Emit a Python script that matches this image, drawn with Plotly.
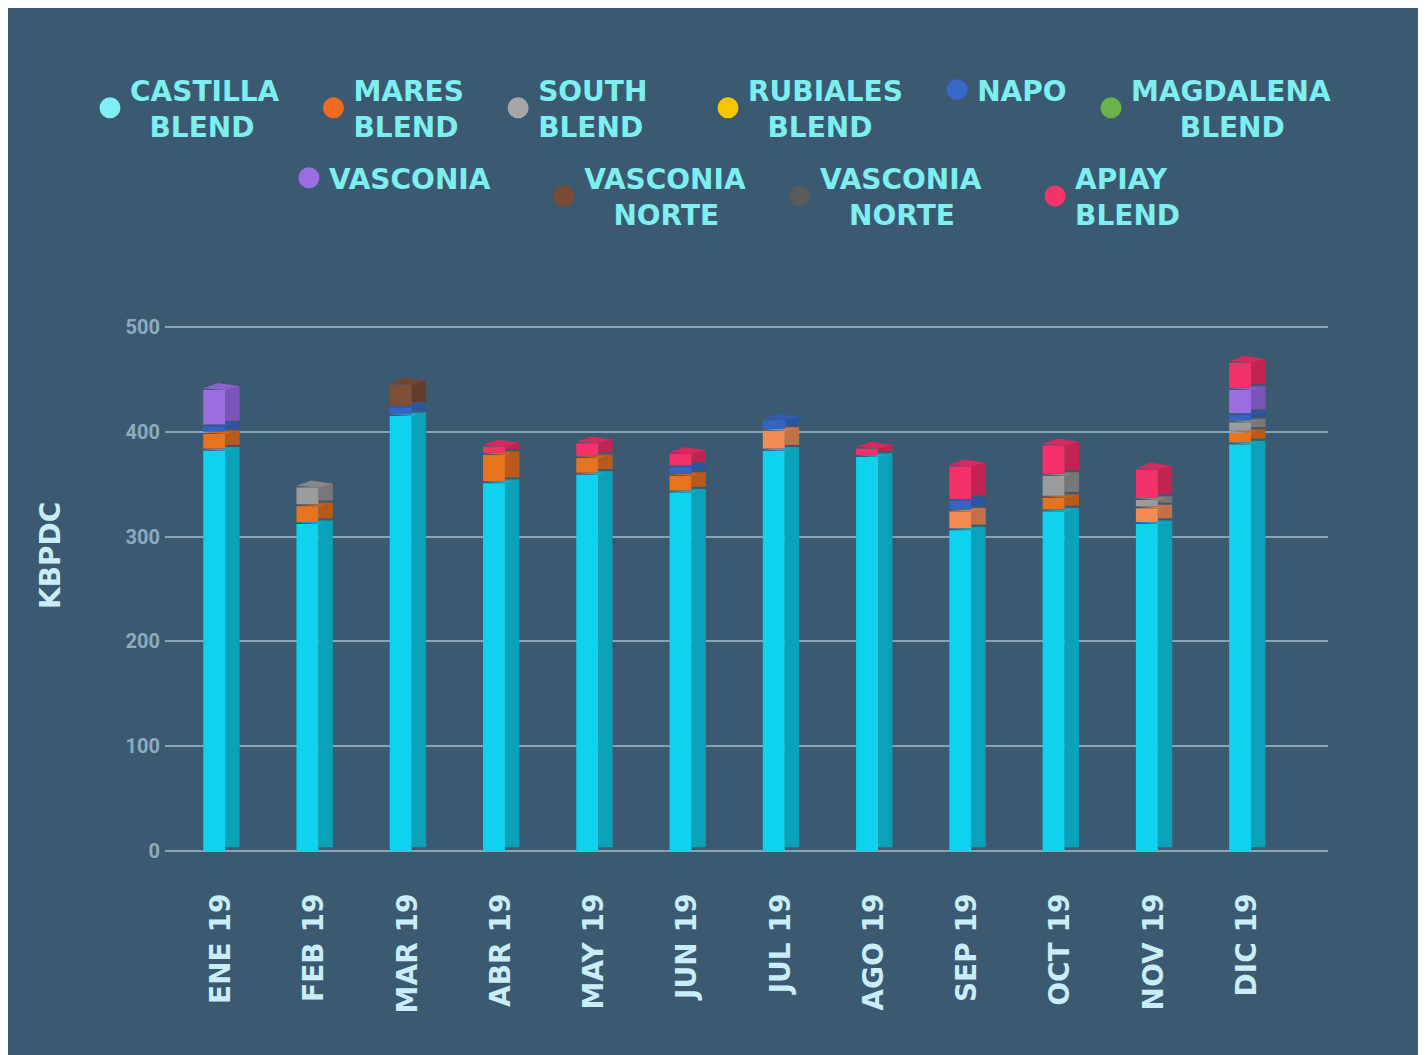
import plotly.graph_objects as go

# ---------------- data ----------------
months = ["ENE 19", "FEB 19", "MAR 19", "ABR 19", "MAY 19", "JUN 19",
          "JUL 19", "AGO 19", "SEP 19", "OCT 19", "NOV 19", "DIC 19"]

castilla_blend = [382, 312, 415, 351, 359, 342, 382, 376, 306, 324, 312, 388]
mares_blend = [14, 15, 0, 25, 14, 14, 17, 0, 16, 11, 13, 9]
south_blend = [0, 16, 0, 0, 0, 0, 0, 0, 0, 19, 6, 8]
rubiales_blend = [0, 0, 0, 0, 0, 0, 0, 0, 0, 0, 0, 0]
napo = [5, 0, 6, 0, 0, 6, 8, 0, 8, 0, 0, 5]
magdalena_blend = [0, 0, 0, 0, 0, 0, 0, 0, 0, 0, 0, 0]
vasconia = [33, 0, 0, 0, 0, 0, 0, 0, 0, 0, 0, 22]
vasconia_norte_a = [0, 0, 20, 0, 0, 0, 0, 0, 0, 0, 0, 0]
vasconia_norte_b = [0, 0, 0, 0, 0, 0, 0, 0, 0, 0, 0, 0]
apiay_blend = [0, 0, 0, 6, 12, 11, 0, 6, 31, 27, 27, 24]

series_names = ["CASTILLA BLEND", "MARES BLEND", "SOUTH BLEND", "RUBIALES BLEND", "NAPO",
                "MAGDALENA BLEND", "VASCONIA", "VASCONIA NORTE", "VASCONIA NORTE",
                "APIAY BLEND"]
NB = "\u00a0"
legend_labels = [
    "CASTILLA" + NB * 3 + "<br>" + NB * 2 + "BLEND",
    "MARES" + NB * 3 + "<br>BLEND",
    "SOUTH" + NB * 5 + "<br>BLEND",
    "RUBIALES" + NB * 3 + "<br>" + NB * 2 + "BLEND",
    "NAPO" + NB * 2,
    "MAGDALENA<br>" + NB * 5 + "BLEND",
    "VASCONIA" + NB * 5,
    "VASCONIA" + NB * 3 + "<br>" + NB * 3 + "NORTE",
    "VASCONIA" + NB * 5 + "<br>" + NB * 3 + "NORTE",
    "APIAY<br>BLEND",
]
legend_slot = ["legend", "legend", "legend", "legend2", "legend2", "legend2",
               "legend3", "legend3", "legend3", "legend3"]
y_ticks = [0, 100, 200, 300, 400, 500]

# ---------------- style ----------------
BG = "#3B5A72"
GRID = "#87A4B7"
LEGEND_TXT = "#7EEFF0"
AXIS_TXT = "#C9EEF8"
YTICK_TXT = "#8DABBE"

styles = [
    dict(front="#0FD3EE", side="#0BA1B8", top="#12B2CB", leg="#80EFF4"),
    dict(front="#E8731F", side="#B95A1A", top="#CF661E", leg="#F26A21"),
    dict(front="#9B9B9B", side="#777777", top="#888888", leg="#A6A6A6"),
    dict(front="#F7C600", side="#C49D00", top="#DDB100", leg="#F7C600"),
    dict(front="#3366C4", side="#2A54A2", top="#2E5DB3", leg="#3868C9"),
    dict(front="#6DB24C", side="#568C3C", top="#619F44", leg="#6CB24A"),
    dict(front="#9C6DE0", side="#7A54B8", top="#8A60CA", leg="#9C6DE0"),
    dict(front="#7E4E36", side="#623C2A", top="#6F4430", leg="#7B4A33"),
    dict(front="#5C5C5C", side="#484848", top="#525252", leg="#5A5A5A"),
    dict(front="#F5316A", side="#C22452", top="#D62A5E", leg="#F5336B"),
]
# lighter shade used for some MARES BLEND blocks
light_mares = dict(front="#F28B54", side="#C2704A", top="#D97D4E")
light_mares_idx = {6, 8, 10}

series = [castilla_blend, mares_blend, south_blend, rubiales_blend, napo,
          magdalena_blend, vasconia, vasconia_norte_a, vasconia_norte_b, apiay_blend]

# block geometry (x in category units, y in data units)
X0, XN, X1 = -0.19, 0.045, 0.20
XB = -0.03
D_L, D_R, D_B = 1.5, 3.5, 6.5
GAP = 2.0

n = len(months)
xs = list(range(n))

# stacking bases
cum = [0.0] * n
bases = []
for vals in series:
    b = []
    for i, v in enumerate(vals):
        if v > 0:
            b.append(cum[i])
            cum[i] += v + GAP
        else:
            b.append(None)
    bases.append(b)


def next_base(k, i):
    for kk in range(k + 1, len(series)):
        if bases[kk][i] is not None:
            return bases[kk][i]
    return None


def clip_below(poly, c):
    out = []
    m = len(poly)
    for j in range(m):
        p, q = poly[j], poly[(j + 1) % m]
        pin, qin = p[1] <= c, q[1] <= c
        if pin:
            out.append(p)
        if pin != qin:
            t = (c - p[1]) / (q[1] - p[1])
            out.append((p[0] + t * (q[0] - p[0]), c))
    return out


fig = go.Figure()

for k, vals in enumerate(series):
    st = styles[k]
    name = series_names[k]
    yv = [v if v > 0 else None for v in vals]
    bv = [bases[k][i] if bases[k][i] is not None else 0 for i in range(n)]
    if k == 1:
        fcol = [light_mares["front"] if i in light_mares_idx else st["front"] for i in range(n)]
        scol = [light_mares["side"] if i in light_mares_idx else st["side"] for i in range(n)]
    else:
        fcol = st["front"]
        scol = st["side"]
    # side face
    fig.add_trace(go.Bar(x=xs, y=yv, base=[b + D_R for b in bv], offset=XN,
                         width=X1 - XN, marker=dict(color=scol, line=dict(width=0)),
                         showlegend=False, hoverinfo="skip", legendgroup=f"g{k}"))
    # front face
    fig.add_trace(go.Bar(x=xs, y=yv, base=bv, offset=X0, width=XN - X0,
                         marker=dict(color=fcol, line=dict(width=0)),
                         name=name, showlegend=False, legendgroup=f"g{k}",
                         customdata=vals,
                         hovertemplate="%{customdata}<extra>" + name + "</extra>"))

# top faces (scatter polygons), clipped under the next block
top_groups = {}
for k, vals in enumerate(series):
    for i, v in enumerate(vals):
        if v <= 0:
            continue
        t = bases[k][i] + v
        poly = [(i + X0, t + D_L), (i + XN, t), (i + X1, t + D_R), (i + XB, t + D_B)]
        nb = next_base(k, i)
        if nb is not None:
            poly = clip_below(poly, nb)
        if len(poly) < 3:
            continue
        col = light_mares["top"] if (k == 1 and i in light_mares_idx) else styles[k]["top"]
        top_groups.setdefault((k, col), []).append(poly)

for (k, col), polys in top_groups.items():
    px_, py_ = [], []
    for poly in polys:
        for (a, b) in poly:
            px_.append(a)
            py_.append(b)
        px_.append(poly[0][0])
        py_.append(poly[0][1])
        px_.append(None)
        py_.append(None)
    fig.add_trace(go.Scatter(x=px_, y=py_, mode="lines", fill="toself", fillcolor=col,
                             line=dict(width=0, color=col), hoverinfo="skip",
                             showlegend=False, legendgroup=f"g{k}"))

# legend entries
for k in range(len(series)):
    fig.add_trace(go.Scatter(x=[None], y=[None], mode="markers", name=legend_labels[k],
                             marker=dict(size=16, color=styles[k]["leg"],
                                         line=dict(width=5, color=styles[k]["leg"])),
                             legendgroup=f"g{k}", legend=legend_slot[k]))

legfont = dict(family="DejaVu Sans", size=28, color=LEGEND_TXT, weight="bold")


def leg(x, y):
    return dict(orientation="h", xref="container", yref="container",
                x=x, xanchor="left", y=y, yanchor="top",
                font=legfont, bgcolor="rgba(0,0,0,0)", traceorder="normal",
                valign="middle")


fig.update_layout(
    width=1426, height=1055,
    paper_bgcolor=BG, plot_bgcolor=BG,
    margin=dict(l=157, r=106, t=318, b=212, autoexpand=False),
    barmode="overlay",
    showlegend=True,
    legend=leg(0.0575, 0.9460),
    legend2=leg(0.4909, 0.9460),
    legend3=leg(0.197, 0.8625),
    xaxis=dict(range=[-0.6, 11.87], tickmode="array", tickvals=xs, ticktext=months,
               tickangle=-90, showgrid=False, zeroline=False, showline=False,
               ticks="", ticklabelstandoff=36,
               tickfont=dict(family="DejaVu Sans", size=28, color=AXIS_TXT, weight="bold")),
    yaxis=dict(range=[0, 501], tickmode="array", tickvals=y_ticks,
               showgrid=True, gridcolor=GRID, gridwidth=2,
               zeroline=True, zerolinecolor=GRID, zerolinewidth=2,
               showline=False, ticks="", ticklabelstandoff=4,
               tickfont=dict(family="Roboto", size=20, color=YTICK_TXT, weight="bold")),
    annotations=[dict(text="KBPDC", xref="paper", yref="paper", x=-0.0989, y=0.5638,
                      xanchor="center", yanchor="middle", showarrow=False, textangle=-90,
                      font=dict(family="DejaVu Sans", size=28, color=AXIS_TXT,
                                weight="bold"))],
)

fig.write_html("out.html")
